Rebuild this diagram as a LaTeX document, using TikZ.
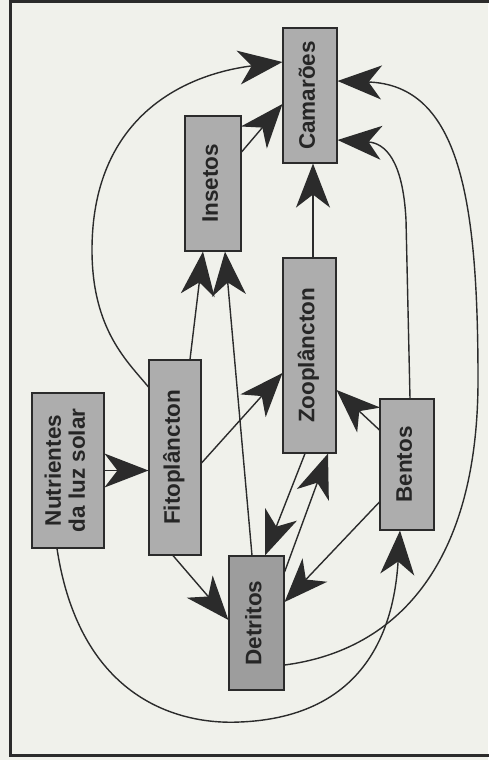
\documentclass[tikz,border=0pt]{standalone}
\usepackage{fontspec}
\setmainfont{Liberation Sans}
\usepackage{graphicx}
\usetikzlibrary{arrows.meta, calc}
\definecolor{fwpaper}{HTML}{F0F1EB}
\definecolor{fwbox}{HTML}{ADADAD}
\definecolor{fwdark}{HTML}{9D9D9D}
\definecolor{fwline}{HTML}{2B2B2B}
\newcommand{\vlabel}[1]{\rotatebox{90}{\begin{tabular}{@{}c@{}}#1\end{tabular}}}
\tikzset{fwtip/.tip={Stealth[length=44pt, width=34pt, inset=13pt]}}

\begin{document}
\begin{tikzpicture}[x=1pt, y=-1pt,
          sp/.style={draw=fwline, line width=1.1pt, fill=fwbox, inner sep=0pt, text=black!85,
                     font=\fontsize{22.5}{24}\selectfont\bfseries},
          fl/.style={draw=fwline, line width=1.4pt, -fwtip}]
        % paper and frame
        \fill[fwpaper] (0,0) rectangle (488,760);
        \useasboundingbox (0,0) rectangle (488,760);
        \draw[fwline, line width=3pt] (490,2) -- (10,2) -- (10,755) -- (490,755);
        % species
        \node[sp, minimum width=72pt, minimum height=155pt] (nut) at (68,470.5) {\vlabel{Nutrientes\\da luz solar}};
        \node[sp, minimum width=52pt, minimum height=195pt] (fit) at (175,457.5) {\vlabel{Fitoplâncton}};
        \node[sp, minimum width=56pt, minimum height=135pt] (ins) at (213,183.5) {\vlabel{Insetos}};
        \node[sp, minimum width=54pt, minimum height=135pt] (cam) at (310,95.5) {\vlabel{Camarões}};
        \node[sp, minimum width=53pt, minimum height=195pt] (zoo) at (309.5,355.5) {\vlabel{Zooplâncton}};
        \node[sp, minimum width=54pt, minimum height=131pt] (ben) at (407,464.5) {\vlabel{Bentos}};
        \node[sp, fill=fwdark, minimum width=55pt, minimum height=134pt] (det) at (256.5,623) {\vlabel{Detritos}};
        % straight links
        \draw[fl] (nut.east) -- (nut.east -| fit.west);
        \draw[fl] ($(fit.north)+(15,0)$) -- ($(ins.south)+(-10,0)$);
        \draw[fl] ($(det.north)+(-4.5,0)$) -- ($(ins.south)+(12,0)$);
        \draw[fl] ($(fit.east)+(0,5.5)$) -- ($(zoo.west)+(0,17.5)$);
        \draw[fl] ($(fit.south)+(-2,0)$) -- ($(det.west)+(0,-3)$);
        \draw[fl] ($(ins.east)+(0,-31.5)$) -- ($(cam.west)+(0,8.5)$);
        \draw[fl] ($(zoo.north)+(3.5,0)$) -- ($(cam.south)+(3,0)$);
        \draw[fl] ($(zoo.south)+(-4.5,0)$) -- ($(det.north)+(8.5,0)$);
        \draw[fl] ($(det.east)+(0,-51)$) -- ($(zoo.south)+(18.5,0)$);
        \draw[fl] ($(ben.west)+(0,-34.5)$) -- ($(zoo.east)+(0,34.5)$);
        \draw[fl] ($(ben.west)+(0,37.5)$) -- ($(det.east)+(0,-21)$);
        % curved links
        \draw[fl] ($(fit.west)+(0,-70.5)$) .. controls (128,362) and (92,330) .. (92,250)
                  .. controls (92,120) and (180,75) .. ($(cam.west)+(0,-33.5)$);
        \draw[fl] ($(ben.north)+(3,0)$) -- (406,220) .. controls (403,160) and (385,143) .. ($(cam.east)+(0,44.5)$);
        \draw[fl] ($(det.east)+(0,42)$) .. controls (400,650) and (478,560) .. (478,380)
                  .. controls (478,200) and (460,85) .. ($(cam.east)+(0,-14.5)$);
        \draw[fl] ($(nut.south)+(-11,0)$) .. controls (80,700) and (180,725) .. (240,722)
                  .. controls (340,718) and (392,660) .. ($(ben.south)+(-7,0)$);
      \end{tikzpicture}
\end{document}
